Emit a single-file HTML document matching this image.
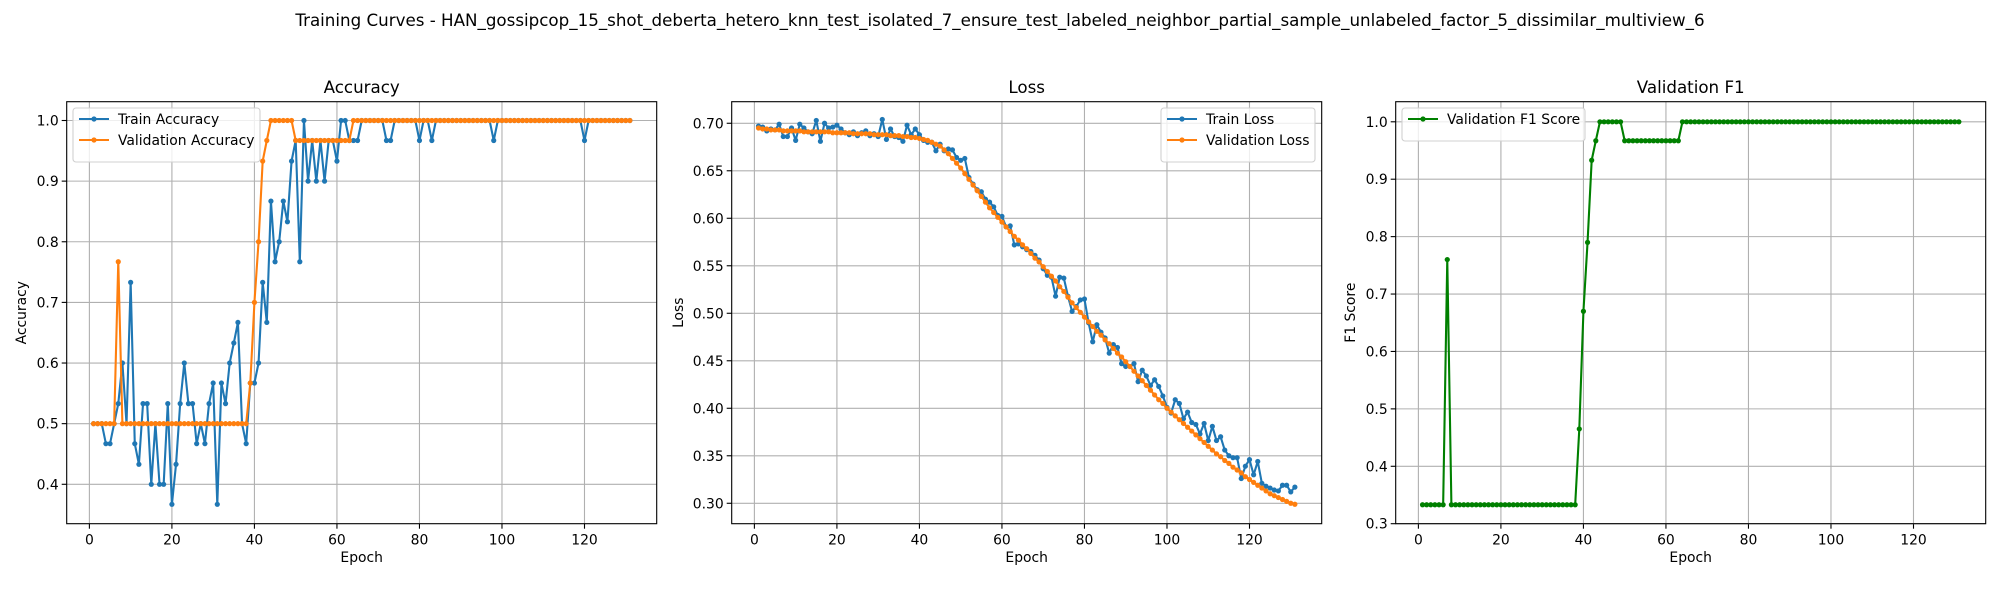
<!DOCTYPE html>
<html><head><meta charset="utf-8">
<style>
html,body{margin:0;padding:0;background:#fff;}
svg{display:block;font-family:"DejaVu Sans","Liberation Sans",sans-serif;}
</style></head>
<body>
<svg id="fig" width="2000" height="600" viewBox="0 0 2000 600" xmlns="http://www.w3.org/2000/svg">
<rect width="2000" height="600" fill="#fff"/>
<text x="1000" y="26" text-anchor="middle" font-size="16.7">Training Curves - HAN_gossipcop_15_shot_deberta_hetero_knn_test_isolated_7_ensure_test_labeled_neighbor_partial_sample_unlabeled_factor_5_dissimilar_multiview_6</text>
</svg>
<script>
const trainAcc=[0.5,0.5,0.5,0.467,0.467,0.5,0.533,0.6,0.5,0.733,0.467,0.433,0.533,0.533,0.4,0.5,0.4,0.4,0.533,0.367,0.433,0.533,0.6,0.533,0.533,0.467,0.5,0.467,0.533,0.567,0.367,0.567,0.533,0.6,0.633,0.667,0.5,0.467,0.567,0.567,0.6,0.733,0.667,0.867,0.767,0.8,0.867,0.833,0.933,0.967,0.767,1.0,0.9,0.967,0.9,0.967,0.9,0.967,0.967,0.933,1.0,1.0,0.967,0.967,0.967,1,1,1,1,1,1,0.967,0.967,1,1,1,1,1,1,0.967,1,1,0.967,1,1,1,1,1,1,1,1,1,1,1,1,1,1,0.967,1,1,1,1,1,1,1,1,1,1,1,1,1,1,1,1,1,1,1,1,1,0.967,1,1,1,1,1,1,1,1,1,1,1];
const valAcc=[0.5,0.5,0.5,0.5,0.5,0.5,0.767,0.5,0.5,0.5,0.5,0.5,0.5,0.5,0.5,0.5,0.5,0.5,0.5,0.5,0.5,0.5,0.5,0.5,0.5,0.5,0.5,0.5,0.5,0.5,0.5,0.5,0.5,0.5,0.5,0.5,0.5,0.5,0.567,0.7,0.8,0.933,0.967,1,1,1,1,1,1,0.967,0.967,0.967,0.967,0.967,0.967,0.967,0.967,0.967,0.967,0.967,0.967,0.967,0.967,1,1,1,1,1,1,1,1,1,1,1,1,1,1,1,1,1,1,1,1,1,1,1,1,1,1,1,1,1,1,1,1,1,1,1,1,1,1,1,1,1,1,1,1,1,1,1,1,1,1,1,1,1,1,1,1,1,1,1,1,1,1,1,1,1,1,1,1];
const trainLoss=[0.697,0.696,0.692,0.694,0.693,0.699,0.686,0.686,0.695,0.682,0.699,0.695,0.691,0.689,0.703,0.681,0.700,0.695,0.696,0.698,0.694,0.690,0.688,0.691,0.687,0.690,0.692,0.687,0.689,0.686,0.704,0.683,0.694,0.686,0.685,0.681,0.698,0.688,0.694,0.688,0.682,0.680,0.680,0.671,0.678,0.671,0.673,0.672,0.664,0.661,0.663,0.643,0.636,0.630,0.628,0.620,0.617,0.612,0.603,0.602,0.591,0.592,0.572,0.573,0.570,0.567,0.565,0.561,0.556,0.547,0.540,0.538,0.518,0.538,0.537,0.518,0.502,0.507,0.514,0.515,0.490,0.470,0.488,0.480,0.474,0.458,0.467,0.464,0.447,0.444,0.444,0.447,0.428,0.440,0.434,0.424,0.430,0.423,0.413,0.401,0.395,0.409,0.405,0.389,0.396,0.385,0.383,0.373,0.384,0.366,0.381,0.366,0.370,0.356,0.350,0.348,0.348,0.326,0.339,0.346,0.330,0.344,0.321,0.318,0.316,0.314,0.313,0.319,0.319,0.312,0.317];
const valLoss=[0.695,0.694,0.694,0.693,0.693,0.693,0.692,0.692,0.692,0.692,0.692,0.691,0.691,0.691,0.691,0.691,0.691,0.691,0.690,0.690,0.690,0.690,0.690,0.689,0.689,0.689,0.689,0.689,0.688,0.688,0.688,0.688,0.687,0.687,0.687,0.686,0.686,0.685,0.685,0.684,0.683,0.682,0.680,0.678,0.676,0.672,0.668,0.663,0.658,0.653,0.647,0.641,0.635,0.629,0.623,0.617,0.611,0.606,0.601,0.596,0.591,0.586,0.581,0.577,0.572,0.568,0.563,0.558,0.554,0.549,0.544,0.539,0.534,0.528,0.523,0.517,0.511,0.506,0.501,0.496,0.491,0.486,0.481,0.477,0.472,0.468,0.463,0.458,0.454,0.449,0.444,0.439,0.434,0.429,0.424,0.419,0.414,0.409,0.405,0.400,0.396,0.392,0.388,0.384,0.380,0.376,0.372,0.368,0.364,0.360,0.356,0.352,0.349,0.345,0.342,0.338,0.335,0.332,0.328,0.325,0.322,0.319,0.316,0.313,0.310,0.308,0.306,0.304,0.302,0.300,0.299];
const valF1=[0.333,0.333,0.333,0.333,0.333,0.333,0.76,0.333,0.333,0.333,0.333,0.333,0.333,0.333,0.333,0.333,0.333,0.333,0.333,0.333,0.333,0.333,0.333,0.333,0.333,0.333,0.333,0.333,0.333,0.333,0.333,0.333,0.333,0.333,0.333,0.333,0.333,0.333,0.465,0.67,0.79,0.933,0.967,1,1,1,1,1,1,0.967,0.967,0.967,0.967,0.967,0.967,0.967,0.967,0.967,0.967,0.967,0.967,0.967,0.967,1,1,1,1,1,1,1,1,1,1,1,1,1,1,1,1,1,1,1,1,1,1,1,1,1,1,1,1,1,1,1,1,1,1,1,1,1,1,1,1,1,1,1,1,1,1,1,1,1,1,1,1,1,1,1,1,1,1,1,1,1,1,1,1,1,1,1,1];
const xTicks=[0,20,40,60,80,100,120];
const accTicks=[0.4,0.5,0.6,0.7,0.8,0.9,1.0];
const lossTicks=[0.30,0.35,0.40,0.45,0.50,0.55,0.60,0.65,0.70];
const f1Ticks=[0.3,0.4,0.5,0.6,0.7,0.8,0.9,1.0];

const NS="http://www.w3.org/2000/svg";
const svg=document.getElementById('fig');
function mk(tag,attrs,parent){const e=document.createElementNS(NS,tag);for(const k in attrs)e.setAttribute(k,attrs[k]);(parent||svg).appendChild(e);return e;}

function panel(cfg){
  const L=cfg.left,R=cfg.left+590,T=101.7,B=523.7;
  const xmin=-5.5,xmax=137.5;
  const sx=v=>L+(v-xmin)/(xmax-xmin)*(R-L);
  const sy=v=>B-(v-cfg.ymin)/(cfg.ymax-cfg.ymin)*(B-T);
  const g=mk('g',{});
  
  
  // grid
  xTicks.forEach(t=>{
    const l=mk('line',{x1:sx(t),x2:sx(t),y1:T,y2:B,stroke:'#b0b0b0','stroke-width':1.1},g);
    
    
    const tk=mk('line',{x1:sx(t),x2:sx(t),y1:B,y2:B+5,stroke:'#000','stroke-width':1.1},g);
    
    
    const tx=mk('text',{x:sx(t),y:B+21,'text-anchor':'middle','font-size':13.9},g);
    
    
    tx.textContent=t;
  });
  cfg.ticks.forEach(t=>{
    const l=mk('line',{x1:L,x2:R,y1:sy(t),y2:sy(t),stroke:'#b0b0b0','stroke-width':1.1},g);
    
    
    const tk=mk('line',{x1:L-5,x2:L,y1:sy(t),y2:sy(t),stroke:'#000','stroke-width':1.1},g);
    
    
    const tx=mk('text',{x:L-8,y:sy(t)+5,'text-anchor':'end','font-size':13.9},g);
    
    
    tx.textContent=t.toFixed(cfg.dec);
  });
  cfg.series.forEach(s=>{
    const pts=s.data.map((v,i)=>sx(i+1).toFixed(2)+','+sy(v).toFixed(2)).join(' ');
    const pl=mk('polyline',{points:pts,fill:'none',stroke:s.color,'stroke-width':2.1,'stroke-linejoin':'round'},g);
    
    
    s.data.forEach((v,i)=>{
      const c=mk('circle',{cx:sx(i+1),cy:sy(v),r:2.6,fill:s.color},g);
      
      
    });
  });
  const fr=mk('rect',{x:L,y:T,width:R-L,height:B-T,fill:'none',stroke:'#000','stroke-width':1.1},g);
  
  
  const ti=mk('text',{x:(L+R)/2,y:93,'text-anchor':'middle','font-size':16.7},g);
  
  
  ti.textContent=cfg.title;
  const xl=mk('text',{x:(L+R)/2,y:562,'text-anchor':'middle','font-size':13.9},g);
  
  
  xl.textContent='Epoch';
  const yx=cfg.ylabX;
  const yl=mk('text',{x:yx,y:(T+B)/2,'text-anchor':'middle','font-size':13.9,transform:`rotate(-90 ${yx} ${(T+B)/2})`},g);
  
  
  yl.textContent=cfg.ylabel;
  // legend
  const lg=cfg.legend;
  const lgG=mk('g',{},g);
  
  
  const h=cfg.series.length*21+12;
  mk('rect',{x:lg.x,y:108,width:lg.w,height:h,rx:3,fill:'#fff','fill-opacity':0.8,stroke:'#d0d0d0','stroke-width':1.1},lgG);
  cfg.series.forEach((s,i)=>{
    const y=119+i*21;
    const ln=mk('line',{x1:lg.x+6,x2:lg.x+36,y1:y,y2:y,stroke:s.color,'stroke-width':2.1},lgG);
    
    
    mk('circle',{cx:lg.x+21,cy:y,r:2.6,fill:s.color},lgG);
    const t=mk('text',{x:lg.x+45,y:y+5,'font-size':13.9},lgG);
    
    
    t.textContent=s.label;
  });
}
panel({name:'accuracy',title:'Accuracy',left:66.7,ymin:0.335,ymax:1.031,ticks:accTicks,dec:1,ylabel:'Accuracy',ylabX:26,
  legend:{x:73,w:187},
  series:[{id:'train-accuracy',data:trainAcc,color:'#1f77b4',label:'Train Accuracy'},{id:'validation-accuracy',data:valAcc,color:'#ff7f0e',label:'Validation Accuracy'}]});
panel({name:'loss',title:'Loss',left:731.7,ymin:0.2785,ymax:0.7227,ticks:lossTicks,dec:2,ylabel:'Loss',ylabX:683,
  legend:{x:1161,w:154},
  series:[{id:'train-loss',data:trainLoss,color:'#1f77b4',label:'Train Loss'},{id:'validation-loss',data:valLoss,color:'#ff7f0e',label:'Validation Loss'}]});
panel({name:'f1',title:'Validation F1',left:1395.7,ymin:0.3,ymax:1.035,ticks:f1Ticks,dec:1,ylabel:'F1 Score',ylabX:1355,
  legend:{x:1402,w:183},
  series:[{id:'validation-f1',data:valF1,color:'#008000',label:'Validation F1 Score'}]});
</script>
</body></html>
